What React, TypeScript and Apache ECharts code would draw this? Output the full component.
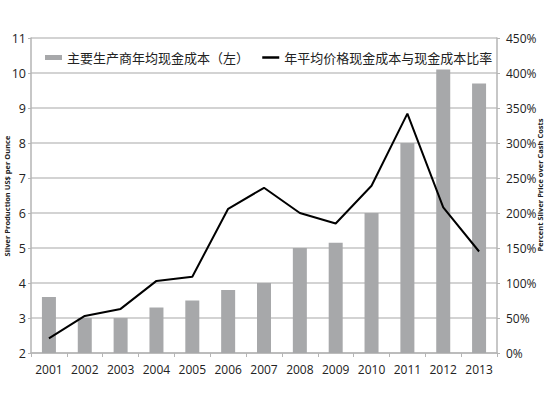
import React, { useEffect, useRef } from "react";
import * as echarts from "echarts";

const years = ["2001", "2002", "2003", "2004", "2005", "2006", "2007", "2008", "2009", "2010", "2011", "2012", "2013"];
const cashCost = [3.6, 3.0, 3.0, 3.3, 3.5, 3.8, 4.0, 5.0, 5.15, 6.0, 8.0, 10.1, 9.7];
const priceRatio = [21, 53, 63, 103, 109, 206, 236, 200, 185, 239, 342, 208, 145];
const barName = "主要生产商年均现金成本（左）";
const lineName = "年平均价格现金成本与现金成本比率";
const leftTitle = "Silver Production US$ per Ounce";
const rightTitle = "Percent Silver Price over Cash Costs";

const tickFont = "'Open Sans', 'Liberation Sans', sans-serif";

export default function App() {
  const ref = useRef<HTMLDivElement>(null);
  useEffect(() => {
    const chart = echarts.init(ref.current!, undefined, { renderer: "svg" });
    chart.setOption({
      animation: false,
      backgroundColor: "#ffffff",
      grid: { left: 31, right: 53, top: 38, bottom: 46, containLabel: false },
      legend: {
        left: 40,
        top: 46,
        itemGap: 12,
        textStyle: { fontFamily: "'Noto Sans CJK SC', sans-serif", fontSize: 13, color: "#222" },
        data: [
          { name: barName, icon: "rect", itemStyle: { color: "#a7a8aa" } },
          { name: lineName, itemStyle: { opacity: 0 }, lineStyle: { color: "#000", width: 2.5 } },
        ],
        itemWidth: 17,
        itemHeight: 5,
      },
      graphic: [
        {
          type: "text",
          x: 7,
          y: 196,
          rotation: Math.PI / 2,
          style: {
            text: leftTitle,
            fontFamily: "'Open Sans', sans-serif",
            fontSize: 7.5,
            fontWeight: "bold",
            fill: "#222",
            align: "center",
            verticalAlign: "middle",
          },
        },
        {
          type: "text",
          x: 540,
          y: 185,
          rotation: Math.PI / 2,
          style: {
            text: rightTitle,
            fontFamily: "'Open Sans', sans-serif",
            fontSize: 7.5,
            fontWeight: "bold",
            fill: "#222",
            align: "center",
            verticalAlign: "middle",
          },
        },
      ],
      xAxis: {
        type: "category",
        data: years,
        axisLine: { show: true, lineStyle: { color: "#b5b5b5", width: 1.5 } },
        axisTick: { show: true, alignWithLabel: false, length: 4, lineStyle: { color: "#b5b5b5" } },
        axisLabel: { interval: 0, fontFamily: tickFont, fontSize: 12, color: "#222", margin: 10 },
      },
      yAxis: [
        {
          type: "value",
          min: 2,
          max: 11,
          interval: 1,
          axisLine: { show: true, lineStyle: { color: "#b5b5b5", width: 1.5 } },
          axisTick: { show: true, length: 3, lineStyle: { color: "#b5b5b5" } },
          axisLabel: { fontFamily: tickFont, fontSize: 12.5, color: "#222", margin: 5 },
          splitLine: { show: true, lineStyle: { color: "#c4c4c4", width: 1.5 } },
        },
        {
          type: "value",
          min: 0,
          max: 450,
          interval: 50,
          position: "right",
          axisLine: { show: true, lineStyle: { color: "#b5b5b5", width: 1.5 } },
          axisTick: { show: true, length: 3, lineStyle: { color: "#b5b5b5" } },
          axisLabel: { fontFamily: tickFont, fontSize: 12, color: "#222", margin: 9, formatter: "{value}%" },
          splitLine: { show: false },
        },
      ],
      series: [
        {
          name: barName,
          type: "bar",
          yAxisIndex: 0,
          data: cashCost,
          barWidth: 14,
          itemStyle: { color: "#a7a8aa" },
        },
        {
          name: lineName,
          type: "line",
          yAxisIndex: 1,
          data: priceRatio,
          symbol: "none",
          lineStyle: { color: "#000000", width: 2 },
          itemStyle: { color: "#000000" },
        },
      ],
    });
    return () => chart.dispose();
  }, []);
  return <div ref={ref} style={{ width: 550, height: 399, position: "absolute", left: 0, top: 0 }} />;
}
